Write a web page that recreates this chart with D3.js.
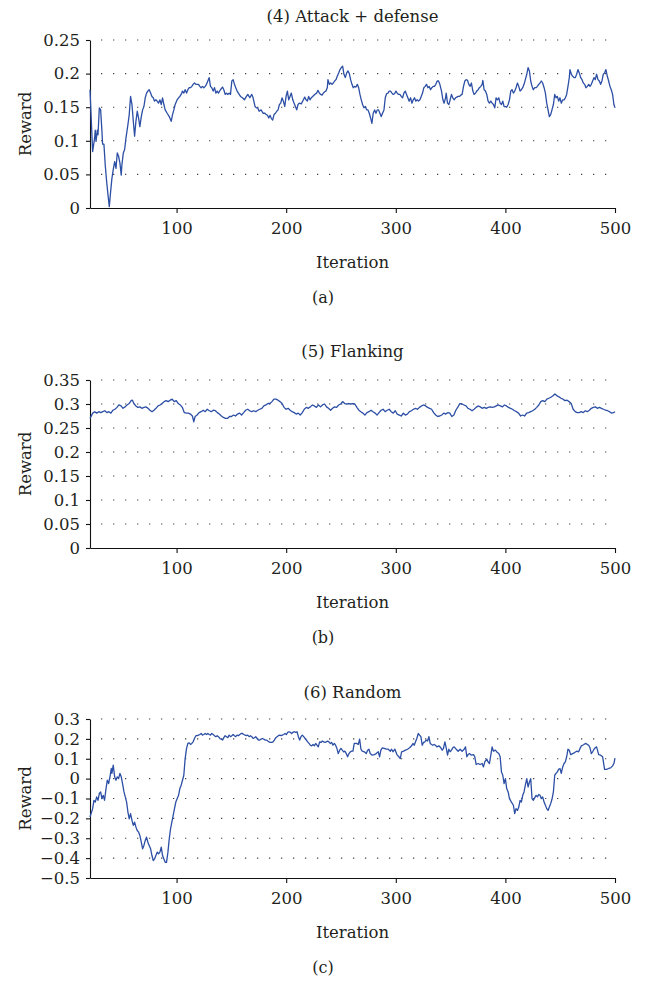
<!DOCTYPE html>
<html>
<head>
<meta charset="utf-8">
<script src="https://cdn.jsdelivr.net/npm/d3@7"></script>
<style>
  body { margin: 0; background: #fff; }
</style>
</head>
<body>
<div id="chart"></div>
<script>
// [iteration, reward]
const attackData = [[21,0.176],[23.4,0.084],[25.2,0.104],[25.8,0.116],[26.5,0.099],[27.7,0.116],[28.3,0.109],[29.5,0.149],[30.7,0.146],[31.9,0.114],[32.5,0.095],[33.7,0.095],[34.9,0.064],[36.2,0.039],[37.4,0.020],[38.6,0.002],[39.8,0.024],[41.0,0.044],[42.2,0.057],[43.5,0.069],[44.7,0.059],[45.9,0.082],[47.1,0.077],[48.3,0.067],[49.5,0.049],[50.1,0.064],[51.4,0.082],[52.6,0.087],[53.8,0.104],[55.6,0.124],[56.8,0.139],[58.0,0.166],[59.3,0.154],[60.5,0.129],[61.7,0.107],[62.9,0.129],[64.1,0.144],[65.3,0.134],[66.5,0.121],[67.8,0.136],[69.0,0.146],[70.2,0.151],[71.4,0.164],[72.6,0.171],[73.8,0.174],[75.0,0.176],[76.3,0.171],[77.5,0.166],[78.7,0.164],[79.9,0.159],[81.1,0.161],[82.3,0.159],[83.5,0.156],[84.8,0.161],[86.0,0.154],[87.2,0.164],[88.4,0.154],[89.6,0.146],[91.4,0.141],[93.3,0.136],[95.1,0.129],[96.3,0.139],[97.5,0.146],[98.7,0.154],[100.5,0.161],[101.8,0.164],[103.0,0.166],[104.2,0.169],[105.4,0.174],[106.6,0.171],[107.8,0.176],[109.1,0.171],[110.3,0.176],[111.5,0.179],[112.7,0.179],[113.9,0.181],[115.1,0.184],[116.3,0.186],[117.6,0.184],[120.0,0.184],[121.2,0.181],[122.4,0.179],[123.6,0.181],[124.9,0.179],[126.1,0.181],[127.3,0.184],[128.5,0.189],[129.7,0.194],[130.9,0.181],[132.1,0.179],[133.4,0.174],[134.6,0.179],[135.8,0.171],[137.0,0.174],[138.2,0.171],[140.0,0.176],[141.9,0.180],[143.1,0.176],[144.3,0.169],[145.5,0.171],[146.7,0.169],[147.9,0.171],[149.2,0.169],[150.4,0.189],[151.6,0.191],[152.8,0.184],[154.0,0.179],[155.2,0.174],[156.4,0.171],[158.3,0.166],[160.1,0.164],[161.9,0.161],[163.7,0.166],[165.0,0.169],[166.8,0.164],[168.6,0.169],[169.8,0.164],[171.6,0.151],[172.8,0.149],[174.0,0.149],[175.3,0.144],[177.1,0.146],[178.9,0.141],[180.7,0.141],
  [181.1,0.140],[182.9,0.138],[184.1,0.134],[185.3,0.138],[186.5,0.133],[187.7,0.131],[188.9,0.139],[190.2,0.141],[191.4,0.144],[192.6,0.146],[193.8,0.154],[195.0,0.156],[196.2,0.164],[197.4,0.159],[198.7,0.151],[199.9,0.166],[201.1,0.174],[202.3,0.161],[203.5,0.166],[204.7,0.171],[206.0,0.161],[207.2,0.156],[208.4,0.151],[209.6,0.146],[210.8,0.154],[212.0,0.156],[213.8,0.155],[215.7,0.161],[216.9,0.165],[218.1,0.161],[219.3,0.159],[220.5,0.166],[221.7,0.161],[222.9,0.164],[224.2,0.166],[226.0,0.169],[227.8,0.171],[229.0,0.175],[230.2,0.171],[231.5,0.169],[232.7,0.168],[233.9,0.171],[235.1,0.173],[236.3,0.174],[237.5,0.179],[238.1,0.191],[239.4,0.184],[240.6,0.186],[241.8,0.184],[243.0,0.186],[244.2,0.189],[245.4,0.191],[246.6,0.196],[247.9,0.201],[249.1,0.206],[250.3,0.209],[251.5,0.211],[252.7,0.199],[253.9,0.194],[255.2,0.201],[256.4,0.204],[257.6,0.200],[258.8,0.191],[260.0,0.184],[261.2,0.179],[262.4,0.181],[263.7,0.180],[264.9,0.184],[266.1,0.179],[267.3,0.169],[268.5,0.161],[269.7,0.154],[270.9,0.149],[272.2,0.151],[273.4,0.146],[274.6,0.146],[275.8,0.141],[277.0,0.134],[278.2,0.126],[279.4,0.141],[280.7,0.146],[281.9,0.141],[283.1,0.146],[284.3,0.146],[285.5,0.141],[286.7,0.136],[287.9,0.141],[289.2,0.146],[290.4,0.164],[291.6,0.170],[292.8,0.171],[294.0,0.174],[295.2,0.174],[296.5,0.171],[297.7,0.169],[298.9,0.170],[300.1,0.174],[301.3,0.171],[302.5,0.169],[303.7,0.169],[305.0,0.166],[306.2,0.164],[307.4,0.171],[308.6,0.174],[309.8,0.169],[311.0,0.164],[312.2,0.159],[313.5,0.164],[314.7,0.156],[315.9,0.161],[317.1,0.164],[318.3,0.159],[319.5,0.161],[320.7,0.159],[322.0,0.161],[323.2,0.166],[324.4,0.171],[325.6,0.179],[326.8,0.181],[328.0,0.184],[329.3,0.179],[330.5,0.181],[331.7,0.176],[332.9,0.179],[334.1,0.181],[335.3,0.181],[336.5,0.184],[337.8,0.189],[339.0,0.189],[340.2,0.184],
  [341.7,0.174],[343.0,0.161],[344.1,0.156],[345.4,0.164],[346.0,0.171],[347.2,0.156],[348.4,0.154],[349.6,0.161],[350.8,0.169],[352.0,0.164],[353.3,0.161],[354.5,0.164],[355.7,0.165],[356.9,0.166],[358.1,0.166],[359.3,0.168],[360.5,0.169],[361.8,0.181],[363.0,0.189],[364.2,0.191],[365.4,0.190],[366.6,0.184],[367.8,0.181],[369.0,0.186],[370.3,0.174],[371.5,0.169],[372.7,0.171],[373.9,0.174],[375.1,0.176],[376.3,0.179],[377.6,0.181],[378.8,0.184],[379.4,0.190],[380.6,0.176],[381.8,0.174],[383.0,0.169],[384.2,0.159],[385.4,0.156],[386.7,0.159],[387.9,0.156],[389.1,0.154],[390.3,0.149],[391.5,0.164],[392.7,0.161],[394.0,0.164],[395.2,0.156],[396.4,0.154],[397.6,0.159],[398.8,0.151],[400.0,0.151],[401.2,0.150],[402.5,0.154],[403.7,0.161],[404.9,0.174],[406.1,0.176],[407.3,0.171],[408.5,0.174],[409.7,0.179],[411.0,0.186],[412.2,0.181],[413.4,0.174],[414.6,0.176],[415.8,0.179],[417.0,0.184],[418.2,0.191],[419.5,0.199],[420.7,0.209],[421.9,0.204],[423.1,0.189],[424.3,0.181],[425.5,0.176],[426.8,0.179],[428.0,0.179],[429.2,0.181],[430.4,0.184],[431.6,0.186],[432.8,0.189],[434.0,0.186],[435.3,0.179],[436.5,0.171],[437.7,0.156],[438.9,0.146],[440.1,0.136],[441.3,0.139],[442.5,0.146],[443.8,0.154],[445.0,0.169],[446.2,0.164],[447.4,0.166],[448.6,0.159],[449.8,0.164],[451.0,0.156],[452.3,0.161],[453.5,0.161],[454.7,0.164],[455.9,0.169],[457.1,0.181],[458.3,0.194],[458.9,0.206],[460.2,0.199],[461.4,0.196],[462.6,0.194],[463.8,0.194],[465.0,0.199],[466.2,0.206],[467.4,0.201],[468.7,0.194],[469.9,0.191],[471.1,0.186],[472.3,0.184],[473.5,0.179],[474.7,0.181],[476.0,0.184],[477.2,0.181],[478.4,0.184],[479.6,0.189],[480.8,0.194],[482.0,0.191],[483.2,0.199],[484.5,0.191],[485.7,0.189],[486.9,0.184],[488.1,0.189],[489.3,0.199],[490.5,0.201],[491.7,0.206],[493.0,0.196],[494.2,0.189],[495.4,0.181],[496.6,0.176],[497.8,0.169],[499.0,0.154],[500.0,0.149]];

const flankingData = [[21,0.270],[23.5,0.281],[25.3,0.284],[27.1,0.281],[29.0,0.284],[30.8,0.282],[32.7,0.284],[34.5,0.286],[36.4,0.282],[38.2,0.284],[40.1,0.281],[41.9,0.287],[43.7,0.289],[45.6,0.293],[47.4,0.298],[49.3,0.296],[51.1,0.291],[53.0,0.294],[54.8,0.298],[56.7,0.301],[58.5,0.307],[59.7,0.308],[61.0,0.301],[62.8,0.296],[64.7,0.293],[66.5,0.294],[68.3,0.291],[70.2,0.293],[72.0,0.294],[73.9,0.291],[75.7,0.287],[77.6,0.284],[79.4,0.287],[81.2,0.291],[83.1,0.296],[84.9,0.298],[86.8,0.301],[88.6,0.305],[90.5,0.307],[92.3,0.305],[94.2,0.308],[96.0,0.310],[97.9,0.305],[99.7,0.307],[101.5,0.301],[103.4,0.298],[105.2,0.293],[107.1,0.282],[108.9,0.281],[110.8,0.281],[112.6,0.279],[114.4,0.275],[115.7,0.263],[116.9,0.274],[118.7,0.277],[120.6,0.282],[122.4,0.284],[124.3,0.287],[126.1,0.284],[128.0,0.289],[129.8,0.286],[131.7,0.284],[133.5,0.287],[135.4,0.286],[137.2,0.282],[139.0,0.279],[140.9,0.275],[142.7,0.272],[144.6,0.270],[146.4,0.270],[148.3,0.274],[150.1,0.274],[152.0,0.277],[153.8,0.275],[155.6,0.279],[157.5,0.281],[159.3,0.277],[161.2,0.282],[163.0,0.287],[164.9,0.289],[166.7,0.286],[168.5,0.284],[170.4,0.286],[172.2,0.284],[174.1,0.287],[175.9,0.289],[177.8,0.291],[179.6,0.296],[181.5,0.298],[183.3,0.301],[185.2,0.301],[187.0,0.305],[188.8,0.310],[190.7,0.310],[192.5,0.308],[194.4,0.305],[196.2,0.301],[198.1,0.293],[199.9,0.289],[201.8,0.291],[203.6,0.287],[205.4,0.284],[207.3,0.282],[209.1,0.279],[211.0,0.281],[212.8,0.277],[214.7,0.282],[216.5,0.289],[218.4,0.293],[220.2,0.291],[222.0,0.294],[223.9,0.298],[225.7,0.296],[227.6,0.293],[229.4,0.298],[231.3,0.294],[233.1,0.298],[235.0,0.300],[236.8,0.294],[238.6,0.291],[240.5,0.287],[242.3,0.291],[244.2,0.294],[246.0,0.293],[247.9,0.298],[249.7,0.300],[251.5,0.305],[253.4,0.301],[255.2,0.300],[257.1,0.301],[258.9,0.300],[260.8,0.301],[262.6,0.300],[264.5,0.293],[266.3,0.287],[268.1,0.284],[270.0,0.281],[271.8,0.277],[273.7,0.282],[275.5,0.284],[277.4,0.287],[279.2,0.284],[281.1,0.281],[282.9,0.277],[284.7,0.282],[286.6,0.287],[288.4,0.289],[290.3,0.284],[292.1,0.287],[294.0,0.289],[295.8,0.284],[297.7,0.281],[299.5,0.286],[301.3,0.279],[303.2,0.277],[305.0,0.275],[306.9,0.281],[308.7,0.277],[310.6,0.279],[312.4,0.284],[314.3,0.286],[316.1,0.289],[317.9,0.291],[319.8,0.289],[321.6,0.293],[323.5,0.296],[325.3,0.298],[327.2,0.296],[329.0,0.293],[330.9,0.291],[332.7,0.289],[334.5,0.282],[336.4,0.277],[338.2,0.274],[340.1,0.275],[341.9,0.277],[343.8,0.281],[345.6,0.279],[347.5,0.282],[349.3,0.281],[351.1,0.274],[353.0,0.277],[354.8,0.287],[356.7,0.294],[358.5,0.301],[360.4,0.300],[362.2,0.298],[364.1,0.296],[365.9,0.291],[367.7,0.289],[369.6,0.286],[371.4,0.289],[373.3,0.293],[375.1,0.296],[377.0,0.294],[378.8,0.291],[380.7,0.293],[382.5,0.291],[384.3,0.293],[386.2,0.294],[388.0,0.293],[389.9,0.294],[391.7,0.296],[393.6,0.298],[395.4,0.296],[397.3,0.294],[399.1,0.298],[400.9,0.296],[402.8,0.293],[404.6,0.291],[406.5,0.289],[408.3,0.286],[410.2,0.284],[412.0,0.281],[413.9,0.275],[415.7,0.277],[417.5,0.275],[419.4,0.281],[421.2,0.282],[423.1,0.284],[424.9,0.286],[426.8,0.289],[428.6,0.293],[430.5,0.298],[432.3,0.305],[434.1,0.307],[436.0,0.305],[437.8,0.310],[439.7,0.312],[441.5,0.314],[443.4,0.317],[445.2,0.321],[447.1,0.317],[448.9,0.315],[450.7,0.312],[452.6,0.310],[454.4,0.307],[456.3,0.308],[458.1,0.305],[460.0,0.301],[461.8,0.289],[463.7,0.284],[465.5,0.282],[467.3,0.282],[469.2,0.284],[471.0,0.282],[472.9,0.286],[474.7,0.284],[476.6,0.287],[478.4,0.291],[480.3,0.293],[482.1,0.294],[483.9,0.291],[485.8,0.293],[487.6,0.291],[489.5,0.289],[491.3,0.287],[493.2,0.286],[495.0,0.284],[496.9,0.281],[498.7,0.282],[500.0,0.284]];

const randomData = [[21,-0.193],[23.4,-0.151],[24.6,-0.109],[25.8,-0.118],[27.1,-0.092],[28.3,-0.109],[29.5,-0.075],[30.7,-0.067],[31.9,-0.101],[33.1,-0.084],[34.3,-0.109],[35.6,-0.050],[36.8,-0.008],[38.0,-0.025],[39.2,0.009],[40.4,0.051],[41.0,0.026],[42.2,0.068],[43.5,0.009],[44.7,-0.008],[45.9,0.009],[47.1,0.000],[48.3,0.026],[49.5,0.009],[50.7,-0.025],[52.0,-0.067],[53.2,-0.092],[54.4,-0.118],[55.6,-0.168],[56.8,-0.202],[58.0,-0.176],[59.3,-0.210],[60.5,-0.235],[61.7,-0.219],[62.9,-0.244],[64.1,-0.261],[65.3,-0.269],[66.5,-0.286],[67.8,-0.320],[69.0,-0.353],[70.2,-0.336],[71.4,-0.311],[72.6,-0.294],[73.8,-0.320],[75.0,-0.336],[76.3,-0.353],[77.5,-0.387],[78.7,-0.412],[79.9,-0.404],[81.1,-0.387],[82.3,-0.370],[83.5,-0.378],[84.8,-0.370],[86.0,-0.345],[87.2,-0.387],[88.4,-0.404],[89.6,-0.421],[90.8,-0.421],[92.1,-0.370],[93.3,-0.303],[94.5,-0.252],[95.7,-0.219],[96.9,-0.185],[98.1,-0.151],[99.3,-0.118],[100.5,-0.101],[101.8,-0.084],[103.0,-0.050],[104.2,-0.033],[105.4,-0.008],[106.6,0.017],[107.8,0.101],[109.1,0.152],[110.3,0.177],[111.5,0.180],[112.7,0.172],[113.9,0.177],[115.1,0.185],[116.3,0.202],[117.6,0.216],[118.8,0.216],[120.0,0.219],[121.2,0.222],[122.4,0.227],[123.6,0.219],[124.8,0.222],[126.1,0.227],[127.3,0.222],[128.5,0.227],[129.7,0.222],[130.9,0.219],[132.1,0.227],[133.4,0.222],[134.6,0.216],[135.8,0.211],[137.0,0.216],[138.2,0.211],[139.4,0.202],[140.6,0.199],[141.9,0.194],[143.1,0.206],[144.3,0.216],[145.5,0.211],[146.7,0.206],[147.9,0.219],[149.2,0.211],[150.4,0.216],[151.6,0.222],[152.8,0.216],[154.0,0.211],[155.2,0.219],[156.4,0.216],[157.7,0.222],[158.9,0.227],[160.1,0.227],[161.3,0.222],[162.5,0.219],[163.7,0.216],[164.9,0.219],[166.2,0.211],[167.4,0.216],[168.6,0.211],[169.8,0.202],[171.0,0.206],[172.2,0.211],[173.5,0.202],[174.7,0.194],[175.9,0.194],[177.1,0.199],[178.3,0.202],[179.5,0.199],[180.7,0.194],[182.0,0.194],[183.2,0.189],[184.4,0.185],[185.6,0.182],[186.8,0.182],[188.0,0.185],[189.2,0.194],[190.5,0.206],[191.7,0.211],[192.9,0.216],[194.1,0.219],[195.3,0.216],[196.5,0.219],[197.7,0.222],[199.0,0.227],[200.2,0.222],[201.4,0.233],[202.6,0.236],[203.8,0.233],[205.0,0.227],[206.2,0.233],[207.5,0.236],[208.7,0.233],[209.9,0.236],[211.1,0.211],[212.3,0.194],[213.5,0.211],[214.7,0.219],[216.0,0.211],[217.2,0.202],[218.4,0.194],[219.6,0.185],[220.8,0.177],[222.0,0.168],[223.2,0.165],[224.5,0.172],[225.7,0.165],[226.9,0.177],[228.1,0.168],[229.3,0.160],[230.5,0.185],[231.7,0.182],[233.0,0.189],[234.2,0.185],[235.4,0.182],[236.6,0.185],[237.8,0.189],[239.0,0.185],[240.3,0.177],[241.5,0.182],[242.7,0.168],[243.9,0.177],[245.1,0.168],[246.3,0.152],[247.5,0.126],[248.8,0.143],[250.0,0.152],[251.2,0.143],[252.4,0.135],[253.6,0.138],[254.8,0.126],[256.0,0.110],[257.3,0.126],[258.5,0.135],[259.7,0.138],[260.9,0.138],
  [262.1,0.177],[264.0,0.177],[265.8,0.172],[267.0,0.199],[268.2,0.148],[269.4,0.138],[271.3,0.135],[273.1,0.126],[274.3,0.143],[275.5,0.148],[276.7,0.126],[278.5,0.118],[280.4,0.121],[282.2,0.126],[284.0,0.135],[285.2,0.110],[286.4,0.143],[287.7,0.155],[289.5,0.152],[291.3,0.148],[293.1,0.148],[295.0,0.138],[296.2,0.148],[297.4,0.135],[299.2,0.148],[301.0,0.121],[302.8,0.110],[304.1,0.101],[305.3,0.135],[307.1,0.138],[308.9,0.143],[310.7,0.148],[312.6,0.155],[314.4,0.165],[315.6,0.177],[316.8,0.168],[318.0,0.185],[319.2,0.202],[320.5,0.227],[321.7,0.219],[322.9,0.211],[324.1,0.168],[325.3,0.182],[326.5,0.185],[327.7,0.194],[329.0,0.189],[330.2,0.211],[331.4,0.177],[332.6,0.172],[333.8,0.168],[335.0,0.172],[336.2,0.168],[337.5,0.160],[339.3,0.165],[341.1,0.155],[342.3,0.143],[343.5,0.152],[344.8,0.185],[346.0,0.155],[347.2,0.118],[348.4,0.148],[349.6,0.135],[350.8,0.143],[352.0,0.155],[353.3,0.160],[355.1,0.148],[356.9,0.138],[358.7,0.148],[360.5,0.138],[362.4,0.148],[363.6,0.160],[364.8,0.110],[366.0,0.121],[367.2,0.126],[369.0,0.118],[370.9,0.121],[372.1,0.110],[373.3,0.071],[375.1,0.076],[376.9,0.071],[378.8,0.076],[380.0,0.059],[381.2,0.084],[383.0,0.098],[384.2,0.084],[385.4,0.076],[386.7,0.118],[387.9,0.160],[389.1,0.138],[390.9,0.143],[392.7,0.131],[394.0,0.126],[395.2,0.110],[396.4,0.034],[397.6,0.017],[398.8,-0.025],[400.0,0.000],[401.2,-0.050],[402.5,-0.067],[403.7,-0.101],[405.5,-0.118],[407.3,-0.134],[408.5,-0.176],[409.7,-0.151],[411.0,-0.160],[412.2,-0.143],[413.4,-0.109],[414.6,-0.118],[415.8,-0.084],[417.0,-0.067],[418.2,-0.033],[419.5,0.000],[420.7,-0.042],[421.9,-0.017],[423.1,0.000],[424.3,-0.101],[425.5,-0.109],[426.7,-0.097],[428.0,-0.084],[429.2,-0.092],[430.4,-0.080],[431.6,-0.084],[432.8,-0.101],[434.0,-0.092],[435.3,-0.118],[436.5,-0.134],[437.7,-0.151],[438.9,-0.160],[440.1,-0.143],[441.3,-0.126],[442.5,-0.104],[443.8,-0.067],[445.0,0.017],[446.2,0.026],[447.4,0.034],[448.6,0.047],[449.8,0.051],[451.0,0.026],[452.3,0.059],[453.5,0.076],[454.7,0.084],[455.9,0.110],[457.1,0.148],[458.3,0.143],[459.5,0.121],[461.4,0.126],[463.2,0.131],[465.0,0.138],[466.8,0.135],[468.1,0.152],[469.3,0.165],[470.5,0.168],[471.7,0.172],[473.5,0.177],[474.7,0.172],[476.0,0.168],[477.2,0.155],[478.4,0.126],[479.6,0.135],[480.8,0.148],[482.0,0.155],[483.2,0.160],[485.1,0.121],[486.9,0.118],[488.7,0.110],[490.5,0.047],[492.3,0.047],[494.2,0.051],[496.0,0.054],[497.8,0.064],[499.0,0.076],[500.0,0.103]];

const iterTicks = [100, 200, 300, 400, 500];
const attackTicks = [0, 0.05, 0.1, 0.15, 0.2, 0.25];
const attackTickLabels = ['0', '0.05', '0.1', '0.15', '0.2', '0.25'];
const flankingTicks = [0, 0.05, 0.1, 0.15, 0.2, 0.25, 0.3, 0.35];
const flankingTickLabels = ['0', '0.05', '0.1', '0.15', '0.2', '0.25', '0.3', '0.35'];
const randomTicks = [-0.5, -0.4, -0.3, -0.2, -0.1, 0, 0.1, 0.2, 0.3];
const randomTickLabels = ['\u22120.5', '\u22120.4', '\u22120.3', '\u22120.2', '\u22120.1', '0', '0.1', '0.2', '0.3'];

const width = 646;
const height = 989;
const plotLeft = 90;
const plotRight = 615;
const font = '"DejaVu Serif", serif';
const fontSize = 16.5;
const textColor = '#231f20';
const lineColor = '#2c4fa5';

const svg = d3.select('#chart')
  .append('svg')
  .attr('width', width)
  .attr('height', height)
  .style('background', '#fff');

const xScale = d3.scaleLinear()
  .domain([21, 500])
  .range([plotLeft, plotRight]);

const panels = [
  { title: '(4) Attack + defense', tag: '(a)', data: attackData, ticks: attackTicks, labels: attackTickLabels, top: 40, bottom: 208, titleY: 22 },
  { title: '(5) Flanking', tag: '(b)', data: flankingData, ticks: flankingTicks, labels: flankingTickLabels, top: 380, bottom: 548, titleY: 357 },
  { title: '(6) Random', tag: '(c)', data: randomData, ticks: randomTicks, labels: randomTickLabels, top: 719, bottom: 878, titleY: 698 }
];

const drawPanel = (p) => {
  const g = svg.append('g');

  const yScale = d3.scaleLinear()
    .domain(d3.extent(p.ticks))
    .range([p.bottom, p.top]);

  // GRID (dotted)
  g.append('g')
    .selectAll('line')
    .data(p.ticks.slice(1))
    .enter()
    .append('line')
    .attr('x1', plotLeft + 11)
    .attr('x2', plotRight + 1)
    .attr('y1', d => yScale(d))
    .attr('y2', d => yScale(d))
    .attr('stroke', '#444')
    .attr('stroke-width', 1.1)
    .attr('stroke-dasharray', '1.3 10.7');

  // Y-AXIS
  const yAxis = g.append('g')
    .attr('transform', `translate(${plotLeft},0)`)
    .call(d3.axisLeft(yScale)
      .tickValues(p.ticks)
      .tickFormat((d, i) => p.labels[i])
      .tickSize(4)
      .tickSizeOuter(0)
      .tickPadding(6));

  // X-AXIS
  const xAxis = g.append('g')
    .attr('transform', `translate(0,${p.bottom})`)
    .call(d3.axisBottom(xScale)
      .tickValues(iterTicks)
      .tickSize(5)
      .tickSizeOuter(0)
      .tickPadding(9));

  [yAxis, xAxis].forEach(ax => {
    ax.attr('font-family', font).attr('font-size', fontSize);
    ax.selectAll('path, line').attr('stroke', '#111').attr('stroke-width', 1.1);
    ax.selectAll('text').attr('fill', textColor);
  });

  // LINE
  g.append('path')
    .datum(p.data)
    .attr('fill', 'none')
    .attr('stroke', lineColor)
    .attr('stroke-width', 1.3)
    .attr('stroke-linejoin', 'round')
    .attr('d', d3.line()
      .x(d => xScale(d[0]))
      .y(d => yScale(d[1])));

  // LABELS
  const midX = (plotLeft + plotRight) / 2;
  const addText = (x, y, str, size) => g.append('text')
    .attr('x', x)
    .attr('y', y)
    .attr('text-anchor', 'middle')
    .attr('font-family', font)
    .attr('font-size', size)
    .attr('fill', textColor)
    .text(str);

  addText(midX, p.titleY, p.title, fontSize);
  addText(midX, p.bottom + 60, 'Iteration', fontSize);
  addText(323, p.bottom + 95, p.tag, 16);

  g.append('text')
    .attr('transform', `translate(31,${(p.top + p.bottom) / 2}) rotate(-90)`)
    .attr('text-anchor', 'middle')
    .attr('font-family', font)
    .attr('font-size', fontSize)
    .attr('fill', textColor)
    .text('Reward');
};

panels.forEach(drawPanel);
</script>
</body>
</html>
